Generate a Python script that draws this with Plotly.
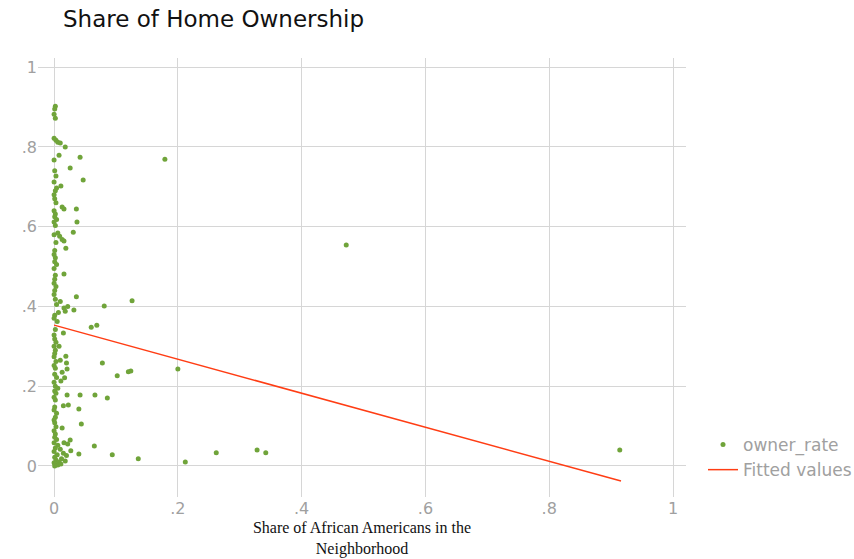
import plotly.graph_objects as go

# Share of African Americans in neighborhood (x) and owner_rate (y)
share_black = [
    0.002, 0.001, 0.000, 0.002, 0.000, 0.003, 0.006, 0.010, 0.018, 0.008,
    0.042, 0.000, 0.026, 0.001, 0.003, 0.047, 0.000, 0.011, 0.004, 0.002,
    0.000, 0.001, 0.003, 0.013, 0.016, 0.036, 0.000, 0.002, 0.001, 0.004,
    0.000, 0.037, 0.002, 0.031, 0.006, 0.000, 0.009, 0.013, 0.016, 0.003,
    0.019, 0.001, 0.000, 0.002, 0.001, 0.004, 0.000, 0.016, 0.002, 0.001,
    0.000, 0.003, 0.001, 0.000, 0.036, 0.002, 0.010, 0.004, 0.016, 0.022,
    0.032, 0.018, 0.007, 0.001, 0.000, 0.005, 0.015, 0.002, 0.000, 0.001,
    0.003, 0.000, 0.008, 0.002, 0.001, 0.000, 0.019, 0.010, 0.003, 0.020,
    0.000, 0.021, 0.002, 0.013, 0.001, 0.004, 0.017, 0.011, 0.000, 0.002,
    0.006, 0.001, 0.003, 0.042, 0.021, 0.000, 0.002, 0.023, 0.015, 0.040,
    0.001, 0.000, 0.004, 0.002, 0.000, 0.044, 0.001, 0.013, 0.003, 0.000,
    0.002, 0.001, 0.026, 0.004, 0.016, 0.000, 0.022, 0.006, 0.002, 0.010,
    0.027, 0.000, 0.015, 0.040, 0.005, 0.020, 0.001, 0.012, 0.003, 0.008,
    0.000, 0.018, 0.002, 0.006, 0.001, 0.011,
    0.179, 0.472, 0.126, 0.081, 0.069, 0.060, 0.078, 0.124, 0.120, 0.102,
    0.200, 0.066, 0.086, 0.065, 0.094, 0.136, 0.212, 0.262, 0.328, 0.342,
    0.914,
]
owner_rate = [
    0.902, 0.895, 0.882, 0.872, 0.822, 0.817, 0.812, 0.810, 0.800, 0.779,
    0.774, 0.767, 0.747, 0.740, 0.727, 0.717, 0.712, 0.702, 0.697, 0.690,
    0.680, 0.670, 0.660, 0.649, 0.644, 0.644, 0.640, 0.632, 0.625, 0.618,
    0.612, 0.612, 0.603, 0.586, 0.584, 0.580, 0.576, 0.568, 0.564, 0.560,
    0.546, 0.540, 0.530, 0.522, 0.512, 0.505, 0.495, 0.481, 0.478, 0.468,
    0.458, 0.450, 0.440, 0.430, 0.424, 0.418, 0.412, 0.405, 0.396, 0.400,
    0.391, 0.388, 0.385, 0.378, 0.370, 0.362, 0.333, 0.342, 0.328, 0.318,
    0.310, 0.300, 0.300, 0.290, 0.282, 0.274, 0.275, 0.265, 0.262, 0.258,
    0.252, 0.243, 0.245, 0.235, 0.230, 0.222, 0.221, 0.213, 0.210, 0.200,
    0.195, 0.188, 0.182, 0.178, 0.178, 0.172, 0.165, 0.153, 0.151, 0.143,
    0.148, 0.140, 0.132, 0.122, 0.115, 0.105, 0.108, 0.095, 0.098, 0.088,
    0.080, 0.072, 0.065, 0.066, 0.058, 0.058, 0.055, 0.052, 0.045, 0.042,
    0.038, 0.036, 0.032, 0.030, 0.028, 0.026, 0.022, 0.018, 0.015, 0.010,
    0.008, 0.012, 0.004, 0.002, 0.000, 0.005,
    0.769, 0.554, 0.414, 0.401, 0.353, 0.348, 0.258, 0.238, 0.236, 0.226,
    0.243, 0.178, 0.170, 0.050, 0.028, 0.018, 0.010, 0.033, 0.040, 0.033,
    0.040,
]

# Fitted regression line endpoints
fit_x = [0.0, 0.916]
fit_y = [0.353, -0.038]

tick_vals = [0, 0.2, 0.4, 0.6, 0.8, 1]
tick_text = ["0", ".2", ".4", ".6", ".8", "1"]

fig = go.Figure()
fig.add_trace(go.Scatter(
    x=share_black, y=owner_rate, mode="markers", name="owner_rate",
    marker=dict(color="#70a43a", size=5),
))
fig.add_trace(go.Scatter(
    x=fit_x, y=fit_y, mode="lines", name="Fitted values",
    line=dict(color="#ff3d14", width=1.5),
))

grid = "#d6d6d6"
tick_font = dict(family="DejaVu Sans", size=16, color="#a0a0a0")
fig.update_layout(
    width=854, height=559,
    margin=dict(l=38, r=168, t=58, b=62, autoexpand=False),
    plot_bgcolor="white", paper_bgcolor="white",
    title=dict(text="Share of Home Ownership", x=63/854, xref="container",
               xanchor="left", y=1-19/559, yanchor="middle", yref="container",
               font=dict(family="DejaVu Sans", size=23, color="#111")),
    xaxis=dict(range=[-0.026, 1.021], tickvals=tick_vals, ticktext=tick_text,
               showgrid=True, gridcolor=grid, gridwidth=1, zeroline=False,
               showline=False, ticks="", tickfont=tick_font, automargin=False,
               title=dict(text="Share of African Americans in the<br>Neighborhood",
                          font=dict(family="Liberation Serif", size=16, color="#111"),
                          standoff=4)),
    yaxis=dict(range=[-0.078, 1.023], tickvals=tick_vals, ticktext=tick_text,
               showgrid=True, gridcolor=grid, gridwidth=1, zeroline=False,
               showline=False, ticks="", tickfont=tick_font, automargin=False),
    legend=dict(x=703/854, xref="container", xanchor="left",
                y=1-427/559, yref="container", yanchor="top",
                font=dict(family="DejaVu Sans", size=17, color="#a0a0a0"),
                bgcolor="rgba(0,0,0,0)"),
    showlegend=True,
)

fig.write_html("out.html")
